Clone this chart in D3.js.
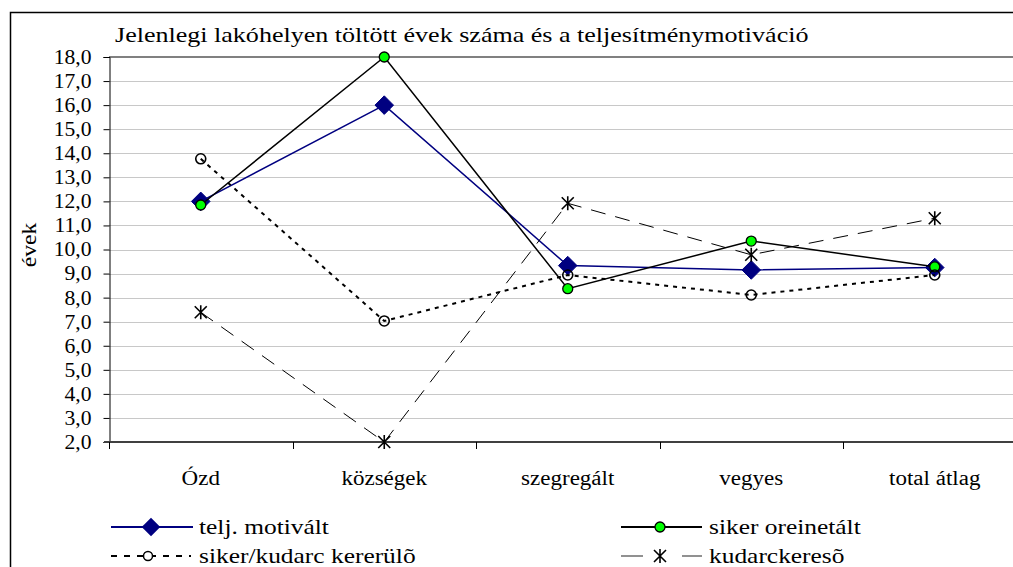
<!DOCTYPE html>
<html>
<head>
<meta charset="utf-8">
<script src="https://cdn.jsdelivr.net/npm/d3@7"></script>
<style>
	html, body { margin: 0; padding: 0; background: #fff; overflow: hidden; }
	svg text { font-family: 'Liberation Serif', 'Times New Roman', 'DejaVu Serif', serif; }
</style>
</head>
<body>
<svg></svg>
<script>
const categories = ['Ózd', 'községek', 'szegregált', 'vegyes', 'total átlag'];
const yTicks = [2, 3, 4, 5, 6, 7, 8, 9, 10, 11, 12, 13, 14, 15, 16, 17, 18];

const teljMotivalt = [12.0, 16.0, 9.33, 9.15, 9.25];
const sikerOrientalt = [11.85, 18.0, 8.37, 10.35, 9.28];
const sikerKudarcKerulo = [13.77, 7.03, 8.94, 8.11, 8.94];
const kudarckereso = [7.39, 2.0, 11.92, 9.78, 11.3];

const seriesNames = ['telj. motivált', 'siker oreinetált', 'siker/kudarc kererülõ', 'kudarckeresõ'];

const width = 1013;
const height = 567;
const serif = "'Liberation Serif', 'Times New Roman', 'DejaVu Serif', serif";

// the original text is drawn a bit wider than the font's own advances
const stretch = (sel, k) => {
	sel.each(function () {
		const w = this.getComputedTextLength();
		d3.select(this)
			.attr('textLength', w * k)
			.attr('lengthAdjust', 'spacingAndGlyphs');
	});
};

const svg = d3.select('svg')
	.attr('width', width)
	.attr('height', height)
	.attr('viewBox', [0, 0, width, height]);

svg.append('rect')
	.attr('width', width)
	.attr('height', height)
	.attr('fill', '#fff');

// outer chart border (runs off the right and bottom edge)
svg.append('rect')
	.attr('x', 10.5)
	.attr('y', 12.5)
	.attr('width', 1100)
	.attr('height', 600)
	.attr('fill', 'none')
	.attr('stroke', '#000')
	.attr('stroke-width', 1.5);

svg.append('text')
	.attr('x', 115)
	.attr('y', 42)
	.attr('font-family', serif)
	.attr('font-size', 21)
	.text('Jelenlegi lakóhelyen töltött évek száma és a teljesítménymotiváció')
	.call(stretch, 1.24);

const x = d3.scaleBand()
	.domain(categories)
	.range([109, 1026.5]);

const y = d3.scaleLinear()
	.domain([2, 18])
	.range([442, 57]);

const locale = d3.formatLocale({ decimal: ',', thousands: ' ', grouping: [3], currency: ['', ''] });
const fmt = locale.format('.1f');

// gridlines
svg.append('g')
	.selectAll('line')
	.data(yTicks.slice(1, -1))
	.enter()
		.append('line')
		.attr('x1', 109)
		.attr('x2', 1030)
		.attr('y1', d => Math.round(y(d)) + 0.5)
		.attr('y2', d => Math.round(y(d)) + 0.5)
		.attr('stroke', '#c8c8c8')
		.attr('stroke-width', 1);

svg.append('line')
	.attr('x1', 109)
	.attr('x2', 1030)
	.attr('y1', y(18))
	.attr('y2', y(18))
	.attr('stroke', '#808080')
	.attr('stroke-width', 2);

// y axis
const yAxis = svg.append('g')
	.attr('transform', 'translate(109.5,0)')
	.call(
		d3.axisLeft(y)
			.tickValues(yTicks)
			.tickFormat(fmt)
			.tickSize(6)
			.tickPadding(12)
	)
	.attr('font-family', serif)
	.attr('font-size', 20);
yAxis.select('.domain').attr('stroke', '#000');
yAxis.selectAll('.tick line').attr('stroke', '#000');
yAxis.selectAll('text')
	.attr('fill', '#000')
	.call(stretch, 1.08);

// x axis
svg.append('line')
	.attr('x1', 104)
	.attr('x2', 1030)
	.attr('y1', 442)
	.attr('y2', 442)
	.attr('stroke', '#404040')
	.attr('stroke-width', 2);

svg.append('g')
	.selectAll('line')
	.data(categories)
	.enter()
		.append('line')
		.attr('x1', d => Math.round(x(d)) + 0.5)
		.attr('x2', d => Math.round(x(d)) + 0.5)
		.attr('y1', 442)
		.attr('y2', 449)
		.attr('stroke', '#000');

svg.append('g')
	.selectAll('text')
	.data(categories)
	.enter()
		.append('text')
		.attr('x', d => x(d) + x.bandwidth() / 2)
		.attr('y', 485)
		.attr('text-anchor', 'middle')
		.attr('font-family', serif)
		.attr('font-size', 20)
		.text(d => d)
		.call(stretch, 1.15);

svg.append('text')
	.attr('transform', 'translate(36,245) rotate(-90)')
	.attr('text-anchor', 'middle')
	.attr('font-family', serif)
	.attr('font-size', 20)
	.text('évek')
	.call(stretch, 1.18);

// series
const cx = (d, i) => x(categories[i]) + x.bandwidth() / 2;
const line = d3.line()
	.x(cx)
	.y(d => y(d));

const diamond = d3.symbol().type(d3.symbolDiamond2).size(220);
const asterisk = {
	draw(context) {
		context.moveTo(0, -7);
		context.lineTo(0, 7);
		context.moveTo(-6, -6);
		context.lineTo(6, 6);
		context.moveTo(-6, 6);
		context.lineTo(6, -6);
	}
};
const star = d3.symbol().type(asterisk);

const plot = svg.append('g');

// 1: telj. motivált
plot.append('path')
	.attr('d', line(teljMotivalt))
	.attr('fill', 'none')
	.attr('stroke', '#000080')
	.attr('stroke-width', 1.5);
plot.append('g')
	.selectAll('path')
	.data(teljMotivalt)
	.enter()
		.append('path')
		.attr('transform', (d, i) => 'translate(' + cx(d, i) + ',' + y(d) + ')')
		.attr('d', diamond)
		.attr('fill', '#000080')
		.attr('stroke', '#000080');

// 2: siker oreinetált
plot.append('path')
	.attr('d', line(sikerOrientalt))
	.attr('fill', 'none')
	.attr('stroke', '#000')
	.attr('stroke-width', 1.5);
plot.append('g')
	.selectAll('circle')
	.data(sikerOrientalt)
	.enter()
		.append('circle')
		.attr('cx', cx)
		.attr('cy', d => y(d))
		.attr('r', 5)
		.attr('fill', '#00ff00')
		.attr('stroke', '#000')
		.attr('stroke-width', 1.3);

// 3: siker/kudarc kererülõ
plot.append('path')
	.attr('d', line(sikerKudarcKerulo))
	.attr('fill', 'none')
	.attr('stroke', '#000')
	.attr('stroke-width', 2)
	.attr('stroke-dasharray', '4,5');
plot.append('g')
	.selectAll('circle')
	.data(sikerKudarcKerulo)
	.enter()
		.append('circle')
		.attr('cx', cx)
		.attr('cy', d => y(d))
		.attr('r', 5)
		.attr('fill', 'none')
		.attr('stroke', '#000')
		.attr('stroke-width', 1.6);

// 4: kudarckeresõ
plot.append('path')
	.attr('d', line(kudarckereso))
	.attr('fill', 'none')
	.attr('stroke', '#000')
	.attr('stroke-width', 1)
	.attr('stroke-dasharray', '15,10');
plot.append('g')
	.selectAll('path')
	.data(kudarckereso)
	.enter()
		.append('path')
		.attr('transform', (d, i) => 'translate(' + cx(d, i) + ',' + y(d) + ')')
		.attr('d', star)
		.attr('fill', 'none')
		.attr('stroke', '#000')
		.attr('stroke-width', 1.6);

// legend
const legend = svg.append('g');
const legendRows = [
	{ x: 111, y: 527, name: seriesNames[0] },
	{ x: 621, y: 527, name: seriesNames[1] },
	{ x: 111, y: 556, name: seriesNames[2] },
	{ x: 621, y: 556, name: seriesNames[3] }
];

const lg = legend.selectAll('g')
	.data(legendRows)
	.enter()
		.append('g')
		.attr('transform', d => 'translate(' + d.x + ',' + d.y + ')');

lg.append('text')
	.attr('x', 88)
	.attr('dy', '0.33em')
	.attr('font-family', serif)
	.attr('font-size', 21)
	.text(d => d.name)
	.call(stretch, 1.21);

const l0 = d3.select(lg.nodes()[0]);
l0.append('line')
	.attr('x1', 0).attr('x2', 82)
	.attr('stroke', '#000080').attr('stroke-width', 2);
l0.append('path')
	.attr('transform', 'translate(40,0)')
	.attr('d', diamond)
	.attr('fill', '#000080');

const l1 = d3.select(lg.nodes()[1]);
l1.append('line')
	.attr('x1', 0).attr('x2', 81)
	.attr('stroke', '#000').attr('stroke-width', 2);
l1.append('circle')
	.attr('cx', 39)
	.attr('r', 5)
	.attr('fill', '#00ff00')
	.attr('stroke', '#000')
	.attr('stroke-width', 1.3);

const l2 = d3.select(lg.nodes()[2]);
l2.append('line')
	.attr('x1', 0).attr('x2', 80)
	.attr('stroke', '#000').attr('stroke-width', 2)
	.attr('stroke-dasharray', '6,7');
l2.append('circle')
	.attr('cx', 37)
	.attr('r', 4.5)
	.attr('fill', '#fff')
	.attr('stroke', '#000')
	.attr('stroke-width', 1.5);

const l3 = d3.select(lg.nodes()[3]);
l3.append('line')
	.attr('x1', 0).attr('x2', 22)
	.attr('stroke', '#555').attr('stroke-width', 1.3);
l3.append('line')
	.attr('x1', 61).attr('x2', 81)
	.attr('stroke', '#555').attr('stroke-width', 1.3);
l3.append('path')
	.attr('transform', 'translate(39,0)')
	.attr('d', star)
	.attr('fill', 'none')
	.attr('stroke', '#000')
	.attr('stroke-width', 1.6);
</script>
</body>
</html>
